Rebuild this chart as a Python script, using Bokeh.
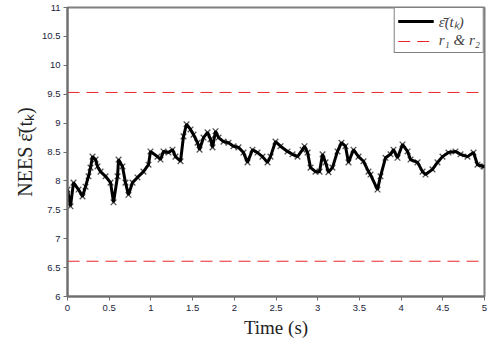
from bokeh.plotting import figure
from bokeh.models import FixedTicker, Legend, LegendItem, Range1d
from bokeh.embed import file_html
from bokeh.resources import INLINE

# --- data ---
t = [0.000, 0.036, 0.072, 0.132, 0.180, 0.216, 0.252, 0.276, 0.300, 0.336,
     0.360, 0.396, 0.456, 0.516, 0.552, 0.600, 0.612, 0.659, 0.695, 0.731,
     0.779, 0.839, 0.911, 0.971, 0.995, 1.079, 1.115, 1.151, 1.211, 1.259,
     1.295, 1.355, 1.391, 1.427, 1.475, 1.511, 1.559, 1.583, 1.631, 1.679,
     1.715, 1.739, 1.775, 1.811, 1.871, 1.930, 1.990, 2.050, 2.110, 2.158,
     2.218, 2.278, 2.338, 2.398, 2.434, 2.494, 2.554, 2.638, 2.698, 2.758,
     2.818, 2.842, 2.878, 2.914, 2.974, 3.022, 3.058, 3.094, 3.129, 3.177,
     3.237, 3.285, 3.333, 3.369, 3.429, 3.489, 3.549, 3.609, 3.633, 3.717,
     3.753, 3.813, 3.873, 3.909, 3.957, 4.017, 4.077, 4.113, 4.197, 4.257,
     4.293, 4.376, 4.436, 4.496, 4.568, 4.652, 4.712, 4.796, 4.868, 4.916,
     4.988, 5.000]
nees = [7.85, 7.56, 7.97, 7.85, 7.73, 7.90, 8.08, 8.23, 8.42, 8.37,
        8.25, 8.16, 8.08, 7.97, 7.63, 8.08, 8.37, 8.25, 7.97, 7.76,
        7.97, 8.06, 8.16, 8.28, 8.51, 8.42, 8.37, 8.51, 8.49, 8.54,
        8.42, 8.34, 8.77, 8.98, 8.89, 8.80, 8.66, 8.54, 8.75, 8.84,
        8.72, 8.58, 8.86, 8.75, 8.68, 8.66, 8.60, 8.58, 8.49, 8.32,
        8.54, 8.49, 8.42, 8.32, 8.42, 8.68, 8.60, 8.51, 8.46, 8.42,
        8.54, 8.60, 8.49, 8.23, 8.16, 8.16, 8.46, 8.32, 8.15, 8.23,
        8.51, 8.66, 8.60, 8.32, 8.54, 8.42, 8.34, 8.16, 8.11, 7.85,
        8.08, 8.40, 8.46, 8.54, 8.40, 8.63, 8.51, 8.37, 8.32, 8.16,
        8.11, 8.20, 8.32, 8.42, 8.49, 8.51, 8.46, 8.42, 8.49, 8.28,
        8.25, 8.25]
bound_t = [0.0, 5.0]
r1 = 9.53
r2 = 6.61

x_ticks = [0, 0.5, 1, 1.5, 2, 2.5, 3, 3.5, 4, 4.5, 5]
x_tick_labels = ["0", "0.5", "1", "1.5", "2", "2.5", "3", "3.5", "4", "4.5", "5"]
y_ticks = [6, 6.5, 7, 7.5, 8, 8.5, 9, 9.5, 10, 10.5, 11]
y_tick_labels = ["6", "6.5", "7", "7.5", "8", "8.5", "9", "9.5", "10", "10.5", "11"]

legend_labels = ["\u03b5\u0304(t\u2096)", "r\u2081 & r\u2082"]
x_label = "Time (s)"
y_label = "NEES \u03b5\u0304(t\u2096)"

p = figure(width=488, height=341, output_backend="svg", toolbar_location=None,
           x_range=Range1d(0, 5), y_range=Range1d(6, 11),
           min_border_left=67, min_border_right=4, min_border_top=7,
           min_border_bottom=45)
p.grid.visible = False
p.outline_line_color = "#7f7f7f"
p.outline_line_width = 2

gray = "#6e6e6e"
for ax in (p.xaxis[0], p.yaxis[0]):
    ax.axis_line_color = gray
    ax.axis_line_width = 2
    ax.major_tick_line_color = gray
    ax.major_tick_out = 4
    ax.major_tick_in = 0
    ax.minor_tick_line_color = None
    ax.major_label_text_font = "Liberation Sans"
    ax.major_label_text_font_size = "9.5px"
    ax.major_label_text_color = "#1c1c3c"
    ax.axis_label_text_font = "Liberation Serif"
    ax.axis_label_text_font_style = "normal"
    ax.axis_label_text_font_size = "19px"
    ax.axis_label_text_color = "#222222"

p.yaxis.axis_label_text_font_size = "20px"
p.xaxis.ticker = FixedTicker(ticks=x_ticks)
p.yaxis.ticker = FixedTicker(ticks=y_ticks)
p.xaxis.major_label_overrides = dict(zip(x_ticks, x_tick_labels))
p.yaxis.major_label_overrides = dict(zip(y_ticks, y_tick_labels))
p.xaxis.axis_label = x_label
p.yaxis.axis_label = y_label
p.xaxis.axis_label_standoff = 3
p.yaxis.axis_label_standoff = 3
p.xaxis.major_label_standoff = 4
p.yaxis.major_label_standoff = 3

red = "#e8262a"
b1 = p.line(bound_t, [r1, r1], line_color=red, line_width=1, line_dash="12 7")
p.line(bound_t, [r2, r2], line_color=red, line_width=1, line_dash="12 7")

p.scatter(t, nees, marker="x", size=8, line_color="#555555", line_width=1.3)
main = p.line(t, nees, line_color="black", line_width=3)

legend = Legend(items=[LegendItem(label=legend_labels[0], renderers=[main]),
                       LegendItem(label=legend_labels[1], renderers=[b1])],
                location="top_right")
legend.label_text_font = "Liberation Serif"
legend.label_text_font_style = "italic"
legend.label_text_font_size = "15px"
legend.label_height = 16
legend.glyph_height = 16
legend.glyph_width = 36
legend.spacing = 1
legend.padding = 3
legend.margin = 0
legend.border_line_color = "black"
legend.border_line_width = 1
legend.background_fill_alpha = 1
p.add_layout(legend)

open("out.html", "w").write(file_html(p, INLINE))
